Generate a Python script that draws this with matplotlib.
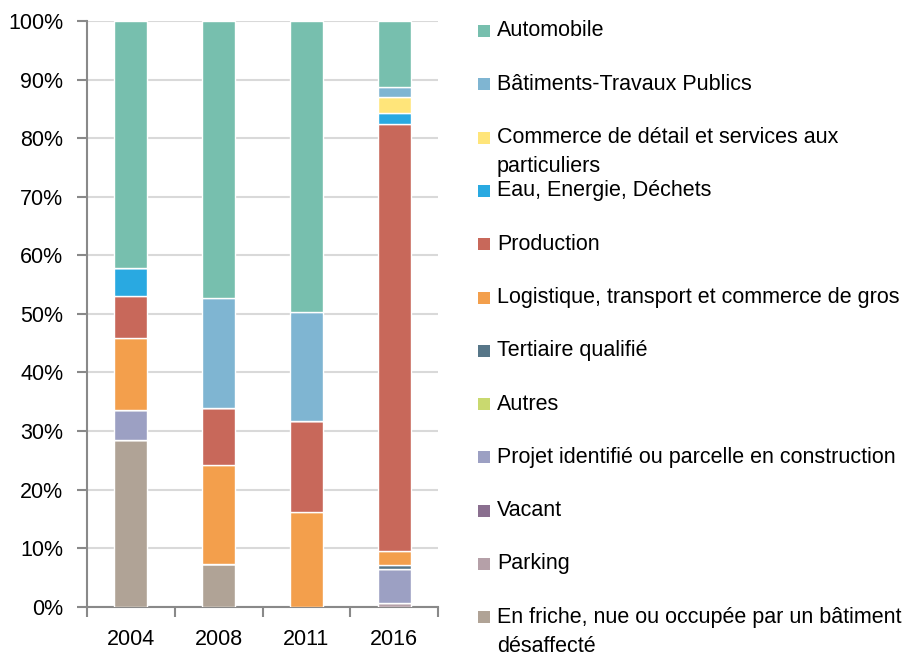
import matplotlib
matplotlib.use("Agg")
import matplotlib.pyplot as plt
from matplotlib.patches import Rectangle
import numpy as np

plt.rcParams['font.family'] = ['Liberation Sans', 'DejaVu Sans']

years = ["2004", "2008", "2011", "2016"]

# Stacking order: bottom -> top
categories = [
    "En friche, nue ou occupée par un bâtiment\ndésaffecté",
    "Parking",
    "Vacant",
    "Projet identifié ou parcelle en construction",
    "Autres",
    "Tertiaire qualifié",
    "Logistique, transport et commerce de gros",
    "Production",
    "Eau, Energie, Déchets",
    "Commerce de détail et services aux\nparticuliers",
    "Bâtiments-Travaux Publics",
    "Automobile",
]

friche = [28.4, 7.3, 0.0, 0.0]
parking = [0.0, 0.0, 0.0, 0.7]
vacant = [0.0, 0.0, 0.0, 0.0]
projet = [5.2, 0.0, 0.0, 5.75]
autres = [0.0, 0.0, 0.0, 0.0]
tertiaire = [0.0, 0.0, 0.0, 0.65]
logistique = [12.2, 16.9, 16.1, 2.45]
production = [7.3, 9.7, 15.6, 72.85]
eau = [4.8, 0.0, 0.0, 1.9]
commerce = [0.0, 0.0, 0.0, 2.7]
btp = [0.0, 18.8, 18.7, 1.75]
automobile = [42.1, 47.3, 49.6, 11.25]

series = [friche, parking, vacant, projet, autres, tertiaire, logistique,
          production, eau, commerce, btp, automobile]

colors = ["#B0A396", "#B5A0A8", "#8A6F8F", "#9CA0C3", "#C9D96F", "#577688",
          "#F39F4C", "#C8685A", "#29A9E1", "#FFE57A", "#7FB5D2", "#77BFAE"]

W, H = 914, 656
FS = 15.5
fig = plt.figure(figsize=(W / 100, H / 100), dpi=100)
ax_left, ax_right, ax_top, ax_bottom = 87, 438, 21, 606.7
ax = fig.add_axes([ax_left / W, (H - ax_bottom) / H,
                   (ax_right - ax_left) / W, (ax_bottom - ax_top) / H])

x = np.arange(len(years))
bottom = np.zeros(len(years))
for vals, c in zip(series, colors):
    v = np.array(vals) / 100.0
    ax.bar(x, v, width=0.375, bottom=bottom, color=c, edgecolor="white",
           linewidth=1.0, zorder=3)
    bottom += v

ax.set_xlim(-0.5, len(years) - 0.5)
ax.set_ylim(0, 1.0)
ax.set_yticks(np.arange(0, 1.01, 0.1))
ax.set_yticklabels([f"{int(round(t*100))}%" for t in np.arange(0, 1.01, 0.1)],
                   fontsize=FS)
ax.yaxis.grid(True, color="#D9D9D9", linewidth=1.5, zorder=0)
ax.set_axisbelow(True)

ax.set_xticks(x)
ax.set_xticklabels(years, fontsize=FS)
ax.set_xticks(np.arange(-0.5, len(years)), minor=True)
ax.tick_params(axis='x', which='major', length=0, pad=16)
ax.tick_params(axis='x', which='minor', length=7, width=1.5, color="#898989")
ax.tick_params(axis='y', length=7, width=1.5, color="#898989", pad=10)

for s in ["top", "right"]:
    ax.spines[s].set_visible(False)
for s in ["left", "bottom"]:
    ax.spines[s].set_color("#898989")
    ax.spines[s].set_linewidth(1.5)

# Manual legend (top entry = top of stack)
y0, dy = 31, 53.3
line_h = 29
for i, (lab, c) in enumerate(zip(categories[::-1], colors[::-1])):
    yc = y0 + i * dy
    fig.patches.append(Rectangle((478 / W, 1 - (yc + 6) / H), 12 / W, 12 / H,
                                 transform=fig.transFigure, facecolor=c,
                                 edgecolor="none"))
    for j, line in enumerate(lab.split("\n")):
        fig.text(497 / W, 1 - (yc + j * line_h) / H, line, fontsize=FS,
                 va="center", ha="left", color="black")

fig.savefig("out.png", dpi=100)
